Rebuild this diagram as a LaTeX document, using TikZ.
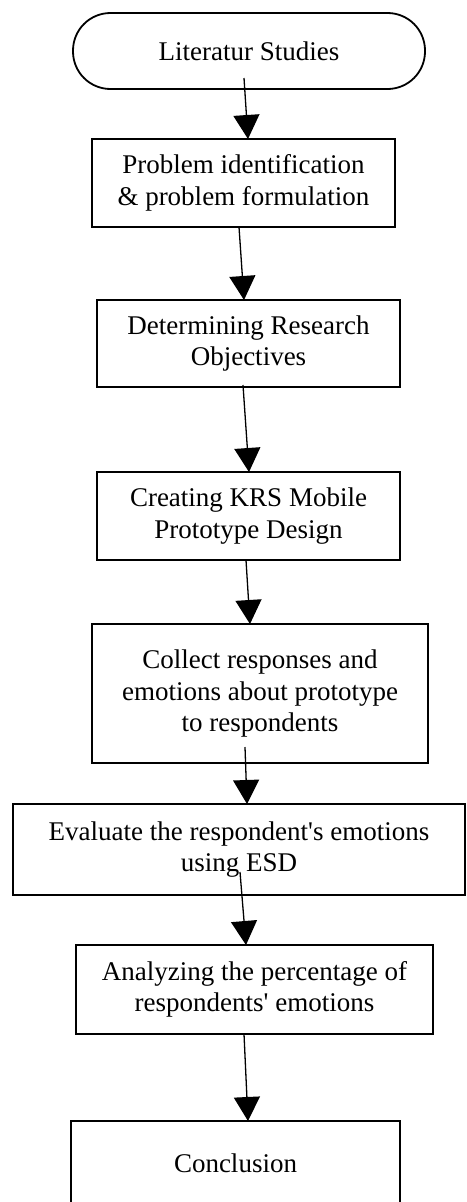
\documentclass[tikz,border=0pt]{standalone}
\usepackage{fontspec}
\setmainfont{Liberation Serif}[Ligatures=TeXOff]
\usetikzlibrary{arrows.meta}
\begin{document}
\begin{tikzpicture}[x=1pt,y=-1pt,
  stepbox/.style={draw=black, line width=1.8pt, fill=white, inner sep=0pt, outer sep=0pt,
    align=center, font=\fontsize{27}{31.5}\selectfont},
  term/.style={stepbox, rounded corners=37.5pt},
  arr/.style={draw=black, line width=1.3pt, -{Triangle[width=26pt,length=24pt]}}]
\useasboundingbox (0,0) rectangle (466,1202);
\clip (0,0) rectangle (466,1202);
\fill[white] (0,0) rectangle (466,1202);
\node[term, minimum width=352pt, minimum height=76pt] (t) at (249,51) {Literatur Studies};
\node[stepbox, minimum width=303pt, minimum height=88pt] (b1) at (243.5,183) {Problem identification\\\& problem formulation};
\node[stepbox, minimum width=303pt, minimum height=87pt] (b2) at (248.5,343.5) {Determining Research\\Objectives};
\node[stepbox, minimum width=303pt, minimum height=88pt] (b3) at (248.5,516) {Creating KRS Mobile\\Prototype Design};
\node[stepbox, minimum width=336pt, minimum height=139pt] (b4) at (260,693.5) {Collect responses and\\emotions about prototype\\to respondents};
\node[stepbox, minimum width=452pt, minimum height=91pt] (b5) at (239,849.5) {Evaluate the respondent's emotions\\using ESD};
\node[stepbox, minimum width=357pt, minimum height=89pt] (b6) at (254.5,989.5) {Analyzing the percentage of\\respondents' emotions};
\node[stepbox, minimum width=329pt, minimum height=85pt] (b7) at (235.5,1163.5) {Conclusion};
\draw[arr] ([xshift=-5pt,yshift=11pt]t.south) -- ([xshift=4.5pt]b1.north);
\draw[arr] ([xshift=-4.5pt]b1.south) -- ([xshift=-4.5pt]b2.north);
\draw[arr] ([xshift=-5.5pt,yshift=2pt]b2.south) -- ([xshift=0.5pt]b3.north);
\draw[arr] ([xshift=-2.5pt]b3.south) -- ([xshift=-10pt]b4.north);
\draw[arr] ([xshift=-15pt,yshift=16pt]b4.south) -- ([xshift=8pt]b5.north);
\draw[arr] ([xshift=1pt,yshift=23pt]b5.south) -- ([xshift=-8.5pt]b6.north);
\draw[arr] ([xshift=-10.5pt]b6.south) -- ([xshift=12.5pt]b7.north);
\end{tikzpicture}
\end{document}
